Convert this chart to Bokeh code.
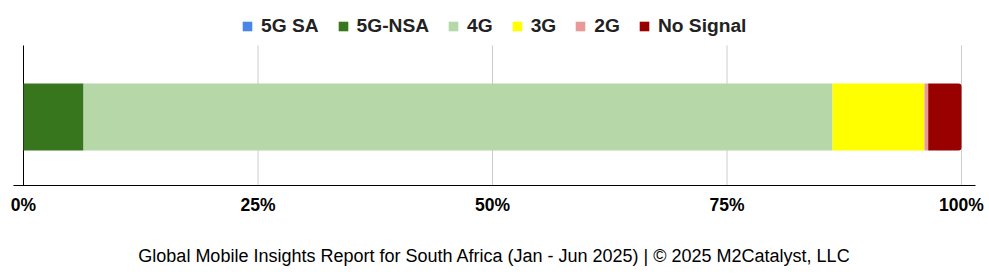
from bokeh.plotting import figure
from bokeh.models import (Range1d, FixedTicker, NumeralTickFormatter, Legend,
                          ColumnDataSource)
from bokeh.embed import file_html
from bokeh.resources import INLINE

series = ["5G SA", "5G-NSA", "4G", "3G", "2G", "No Signal"]
values = [0.0, 6.4, 79.85, 9.8, 0.4, 3.55]
colors = ["#4a86e8", "#38761d", "#b6d7a8", "#ffff00", "#ea9999", "#990000"]
ticks = [0, 0.25, 0.5, 0.75, 1.0]
title_text = "Global Mobile Insights Report for South Africa (Jan - Jun 2025) | \u00a9 2025 M2Catalyst, LLC"

FONT = "Liberation Sans"

# vertical layout in pixel-like units (frame spans 185 px, 0 = axis line)
PLOT_TOP = 140
BAR_Y = 68.5
BAR_H = 67

p = figure(width=989, height=274, output_backend="svg", toolbar_location=None,
           x_range=Range1d(-10 / 938, 1 + 14 / 938), y_range=Range1d(0, 185),
           min_border_left=13, min_border_right=14, min_border_top=0, min_border_bottom=89)
p.outline_line_color = None
p.background_fill_color = "white"
p.border_fill_color = "white"

# grid lines (limited to the plot area below the legend)
p.segment(x0=ticks[1:], y0=[0] * (len(ticks) - 1), x1=ticks[1:], y1=[PLOT_TOP] * (len(ticks) - 1),
          line_color="#cccccc", line_width=1)
p.segment(x0=[ticks[0]], y0=[0], x1=[ticks[0]], y1=[PLOT_TOP], line_color="#000000", line_width=1)

data = {"y": [BAR_Y]}
for s, v in zip(series, values):
    data[s] = [v / 100.0]
src = ColumnDataSource(data)

rs = p.hbar_stack(series, y="y", height=BAR_H, color=colors, source=src, line_width=0)
rs[-1].glyph.border_radius = (0, 3, 3, 0)

legend = Legend(items=[(s, [r]) for s, r in zip(series, rs)], orientation="horizontal",
                location=(228, 148), label_text_font=FONT, label_text_font_style="bold",
                label_text_font_size="19.2px", label_text_color="#222222",
                glyph_width=12, glyph_height=12, label_standoff=8, spacing=18,
                padding=0, margin=0, border_line_color=None, background_fill_alpha=0,
                label_height=12)
p.add_layout(legend, "center")

p.yaxis.visible = False
p.ygrid.visible = False
p.xgrid.visible = False

p.xaxis.ticker = FixedTicker(ticks=ticks)
p.xaxis.formatter = NumeralTickFormatter(format="0%")
p.xaxis.major_tick_line_color = None
p.xaxis.minor_tick_line_color = None
p.xaxis.axis_line_color = "#000000"
p.xaxis.major_label_text_font = FONT
p.xaxis.major_label_text_font_style = "bold"
p.xaxis.major_label_text_font_size = "17.5px"
p.xaxis.major_label_text_color = "#000000"
p.xaxis.major_label_standoff = 3

p.xaxis.axis_label = title_text
p.xaxis.axis_label_text_font = FONT
p.xaxis.axis_label_text_font_style = "normal"
p.xaxis.axis_label_text_font_size = "18px"
p.xaxis.axis_label_text_color = "#000000"
p.xaxis.axis_label_standoff = 28

open("out.html", "w").write(file_html(p, INLINE))
